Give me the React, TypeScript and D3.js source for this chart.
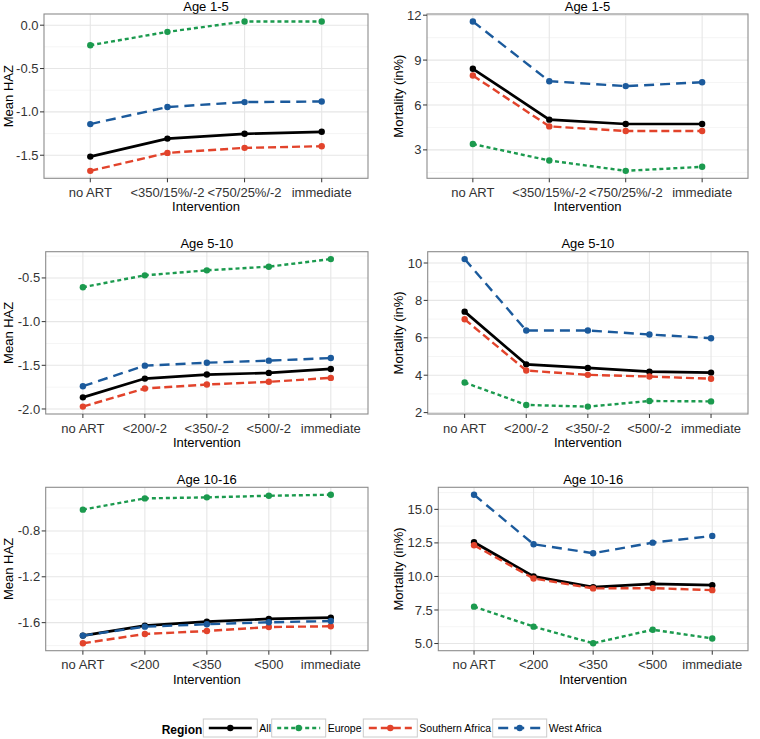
import React from "react";
import * as d3 from "d3";

// ---------- data ----------
const regions = ["All", "Europe", "Southern Africa", "West Africa"];
const regionColors = ["#000000", "#1B9A4E", "#E2432B", "#1B5A9C"];
const regionDash = ["", "4,3", "8,4", "10,6"];
const regionWidth = [2.7, 2.4, 2.4, 2.4];

const interventions1 = ["no ART", "<350/15%/-2", "<750/25%/-2", "immediate"];
const interventions2 = ["no ART", "<200/-2", "<350/-2", "<500/-2", "immediate"];
const interventions3 = ["no ART", "<200", "<350", "<500", "immediate"];

// Mean HAZ, Age 1-5
const haz1All = [-1.516, -1.308, -1.253, -1.23];
const haz1Europe = [-0.231, -0.077, 0.043, 0.043];
const haz1South = [-1.68, -1.473, -1.415, -1.396];
const haz1West = [-1.141, -0.944, -0.887, -0.88];
// Mortality, Age 1-5
const mort1All = [8.42, 5.02, 4.73, 4.73];
const mort1Europe = [3.39, 2.29, 1.6, 1.87];
const mort1South = [7.97, 4.57, 4.26, 4.26];
const mort1West = [11.58, 7.59, 7.26, 7.52];
// Mean HAZ, Age 5-10
const haz2All = [-1.867, -1.652, -1.606, -1.587, -1.542];
const haz2Europe = [-0.606, -0.47, -0.413, -0.371, -0.284];
const haz2South = [-1.973, -1.765, -1.72, -1.689, -1.644];
const haz2West = [-1.739, -1.504, -1.47, -1.447, -1.417];
// Mortality, Age 5-10
const mort2All = [7.4, 4.58, 4.39, 4.19, 4.14];
const mort2Europe = [3.61, 2.41, 2.32, 2.62, 2.6];
const mort2South = [6.99, 4.25, 4.02, 3.93, 3.81];
const mort2West = [10.21, 6.39, 6.39, 6.18, 5.98];
// Mean HAZ, Age 10-16
const haz3All = [-1.713, -1.626, -1.591, -1.568, -1.557];
const haz3Europe = [-0.614, -0.516, -0.507, -0.493, -0.484];
const haz3South = [-1.78, -1.699, -1.673, -1.638, -1.632];
const haz3West = [-1.713, -1.635, -1.614, -1.597, -1.586];
// Mortality, Age 10-16
const mort3All = [12.55, 10.0, 9.2, 9.45, 9.35];
const mort3Europe = [7.75, 6.26, 5.02, 6.03, 5.38];
const mort3South = [12.33, 9.85, 9.11, 9.13, 8.98];
const mort3West = [16.09, 12.4, 11.73, 12.52, 13.02];

const hazTicks1 = ["0.0", "-0.5", "-1.0", "-1.5"];
const mortTicks1 = ["3", "6", "9", "12"];
const hazTicks2 = ["-0.5", "-1.0", "-1.5", "-2.0"];
const mortTicks2 = ["2", "4", "6", "8", "10"];
const hazTicks3 = ["-0.8", "-1.2", "-1.6"];
const mortTicks3 = ["5.0", "7.5", "10.0", "12.5", "15.0"];

const titles = ["Age 1-5", "Age 1-5", "Age 5-10", "Age 5-10", "Age 10-16", "Age 10-16"];
const yTitles = ["Mean HAZ", "Mortality (in%)"];
const xTitle = "Intervention";
const legendTitle = "Region";

// ---------- layout ----------
const W = 760;
const H = 739;
const FONT = "'Liberation Sans', Arial, Helvetica, sans-serif";
const boxes = [
  { x0: 44, x1: 368, y0: 14, y1: 178.3 },
  { x0: 427, x1: 748, y0: 14, y1: 178.3 },
  { x0: 45.7, x1: 368, y0: 251.7, y1: 414 },
  { x0: 427.7, x1: 748, y0: 251.7, y1: 414 },
  { x0: 45.7, x1: 368, y0: 487.3, y1: 650.7 },
  { x0: 438.3, x1: 748, y0: 487.3, y1: 650.7 },
];
const yTitleX = [13, 402.6];
const legendBoxes = [203.3, 271.7, 363.3, 492.7];
const legendBoxW = 54;
const legendY0 = 719;
const legendBoxH = 18;

type Panel = {
  title: string;
  cats: string[];
  series: number[][];
  ticks: string[];
  yTitle: string;
};

const panels: Panel[] = [
  { title: titles[0], cats: interventions1, series: [haz1All, haz1Europe, haz1South, haz1West], ticks: hazTicks1, yTitle: yTitles[0] },
  { title: titles[1], cats: interventions1, series: [mort1All, mort1Europe, mort1South, mort1West], ticks: mortTicks1, yTitle: yTitles[1] },
  { title: titles[2], cats: interventions2, series: [haz2All, haz2Europe, haz2South, haz2West], ticks: hazTicks2, yTitle: yTitles[0] },
  { title: titles[3], cats: interventions2, series: [mort2All, mort2Europe, mort2South, mort2West], ticks: mortTicks2, yTitle: yTitles[1] },
  { title: titles[4], cats: interventions3, series: [haz3All, haz3Europe, haz3South, haz3West], ticks: hazTicks3, yTitle: yTitles[0] },
  { title: titles[5], cats: interventions3, series: [mort3All, mort3Europe, mort3South, mort3West], ticks: mortTicks3, yTitle: yTitles[1] },
];

function PanelView({ p, box, col }: { p: Panel; box: typeof boxes[0]; col: number }) {
  const all = p.series.flat();
  const [mn, mx] = d3.extent(all) as [number, number];
  const pad = (mx - mn) * 0.05;
  const y = d3.scaleLinear().domain([mn - pad, mx + pad]).range([box.y1, box.y0]);
  const x = d3.scalePoint<string>().domain(p.cats).range([box.x0, box.x1]).padding(0.6);
  const majors = p.ticks.map((t) => +t).sort((a, b) => a - b);
  const step = majors[1] - majors[0];
  const minors: number[] = [];
  const [d0, d1] = y.domain();
  for (let v = majors[0] - step / 2; v <= majors[majors.length - 1] + step; v += step) {
    if (v >= d0 && v <= d1) minors.push(v);
  }
  const line = d3
    .line<number>()
    .x((_, i) => x(p.cats[i]) as number)
    .y((d) => y(d));
  const cx = (box.x0 + box.x1) / 2;
  const cy = (box.y0 + box.y1) / 2;
  return (
    <g>
      <rect x={box.x0} y={box.y0} width={box.x1 - box.x0} height={box.y1 - box.y0} fill="#fff" />
      {minors.map((v, i) => (
        <line key={"mn" + i} x1={box.x0} x2={box.x1} y1={y(v)} y2={y(v)} stroke="#F2F2F2" strokeWidth={0.8} />
      ))}
      {majors.map((v, i) => (
        <line key={"mj" + i} x1={box.x0} x2={box.x1} y1={y(v)} y2={y(v)} stroke="#E6E6E6" strokeWidth={1.1} />
      ))}
      {p.cats.map((c) => (
        <line key={"xg" + c} x1={x(c)} x2={x(c)} y1={box.y0} y2={box.y1} stroke="#E6E6E6" strokeWidth={1.1} />
      ))}
      {p.series.map((s, si) => (
        <g key={"s" + si}>
          <path
            d={line(s) || ""}
            fill="none"
            stroke={regionColors[si]}
            strokeWidth={regionWidth[si]}
            strokeDasharray={regionDash[si]}
          />
          {s.map((v, i) => (
            <circle key={i} cx={x(p.cats[i])} cy={y(v)} r={3.2} fill={regionColors[si]} />
          ))}
        </g>
      ))}
      <rect
        x={box.x0}
        y={box.y0}
        width={box.x1 - box.x0}
        height={box.y1 - box.y0}
        fill="none"
        stroke="#8C8C8C"
        strokeWidth={1.1}
      />
      {/* y ticks */}
      {p.ticks.map((t) => (
        <g key={"yt" + t}>
          <line x1={box.x0 - 4} x2={box.x0} y1={y(+t)} y2={y(+t)} stroke="#333" strokeWidth={1} />
          <text x={box.x0 - 5.5} y={y(+t)} dy="0.35em" textAnchor="end" fontSize={13} fill="#333">
            {t}
          </text>
        </g>
      ))}
      {/* x ticks */}
      {p.cats.map((c) => (
        <g key={"xt" + c}>
          <line x1={x(c)} x2={x(c)} y1={box.y1} y2={box.y1 + 4} stroke="#333" strokeWidth={1} />
          <text x={x(c)} y={box.y1 + 18.5} textAnchor="middle" fontSize={13} fill="#333">
            {c}
          </text>
        </g>
      ))}
      <text x={cx} y={box.y1 + 33} textAnchor="middle" fontSize={13} fill="#000">
        {xTitle}
      </text>
      <text x={cx} y={box.y0 - 3.5} textAnchor="middle" fontSize={13} fill="#000">
        {p.title}
      </text>
      <text
        transform={`translate(${yTitleX[col]},${cy}) rotate(-90)`}
        textAnchor="middle"
        fontSize={13}
        fill="#000"
      >
        {p.yTitle}
      </text>
    </g>
  );
}

export default function App() {
  return (
    <svg
      width={W}
      height={H}
      viewBox={`0 0 ${W} ${H}`}
      style={{ position: "absolute", left: 0, top: 0, background: "#fff", fontFamily: FONT }}
    >
      <rect x={0} y={0} width={W} height={H} fill="#fff" />
      {panels.map((p, i) => (
        <PanelView key={i} p={p} box={boxes[i]} col={i % 2} />
      ))}
      {/* legend */}
      <text x={161.7} y={733.6} fontSize={12} fontWeight="bold" fill="#000">
        {legendTitle}
      </text>
      {regions.map((r, i) => {
        const bx = legendBoxes[i];
        const ly = legendY0 + legendBoxH / 2;
        return (
          <g key={r}>
            <rect x={bx} y={legendY0} width={legendBoxW} height={legendBoxH} fill="#fff" stroke="#CCCCCC" strokeWidth={1} />
            <line
              x1={bx + 5.5}
              x2={bx + legendBoxW - 5.5}
              y1={ly}
              y2={ly}
              stroke={regionColors[i]}
              strokeWidth={regionWidth[i]}
              strokeDasharray={regionDash[i]}
            />
            <circle cx={bx + legendBoxW / 2} cy={ly} r={3.2} fill={regionColors[i]} />
            <text x={bx + legendBoxW + 2} y={ly + 3.8} fontSize={10.5} fill="#000">
              {r}
            </text>
          </g>
        );
      })}
    </svg>
  );
}
